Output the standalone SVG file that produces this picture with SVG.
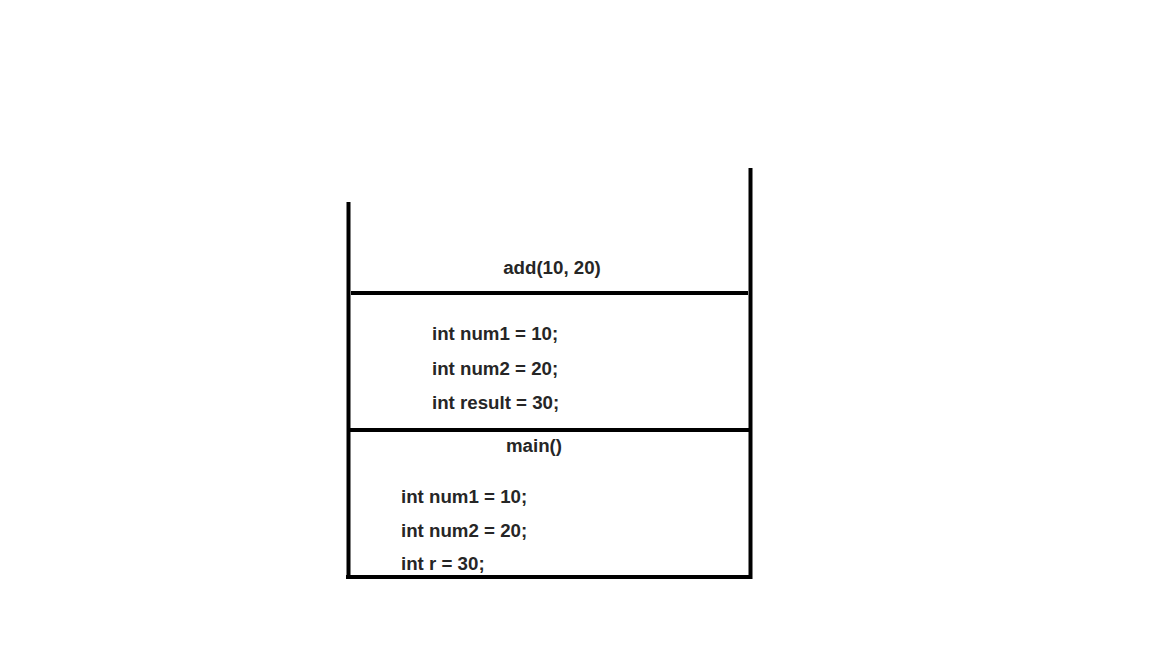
<svg xmlns="http://www.w3.org/2000/svg" width="1152" height="648" viewBox="0 0 1152 648">
<style>
.ln{stroke:#000;stroke-width:4;fill:none}
.t{font-family:"Liberation Sans",Arial,sans-serif;font-weight:bold;font-size:18.7px;fill:#262626}
</style>
<rect width="1152" height="648" fill="#fff"/>
<g id="connectors">
<line class="ln" x1="348.5" y1="202" x2="348.5" y2="579"/>
<line class="ln" x1="750.5" y1="168" x2="750.5" y2="579"/>
<line class="ln" x1="351" y1="293" x2="748" y2="293"/>
<line class="ln" x1="348" y1="430" x2="751" y2="430"/>
<line class="ln" x1="346" y1="577" x2="752" y2="577"/>
</g>
<g id="add-frame">
<text class="t" x="552" y="274" text-anchor="middle">add(10, 20)</text>
<text class="t" x="432" y="340">int num1 = 10;</text>
<text class="t" x="432" y="375">int num2 = 20;</text>
<text class="t" x="432" y="409">int result = 30;</text>
</g>
<g id="main-frame">
<text class="t" x="534" y="452" text-anchor="middle">main()</text>
<text class="t" x="401" y="503">int num1 = 10;</text>
<text class="t" x="401" y="537">int num2 = 20;</text>
<text class="t" x="401" y="570">int r = 30;</text>
</g>
</svg>
